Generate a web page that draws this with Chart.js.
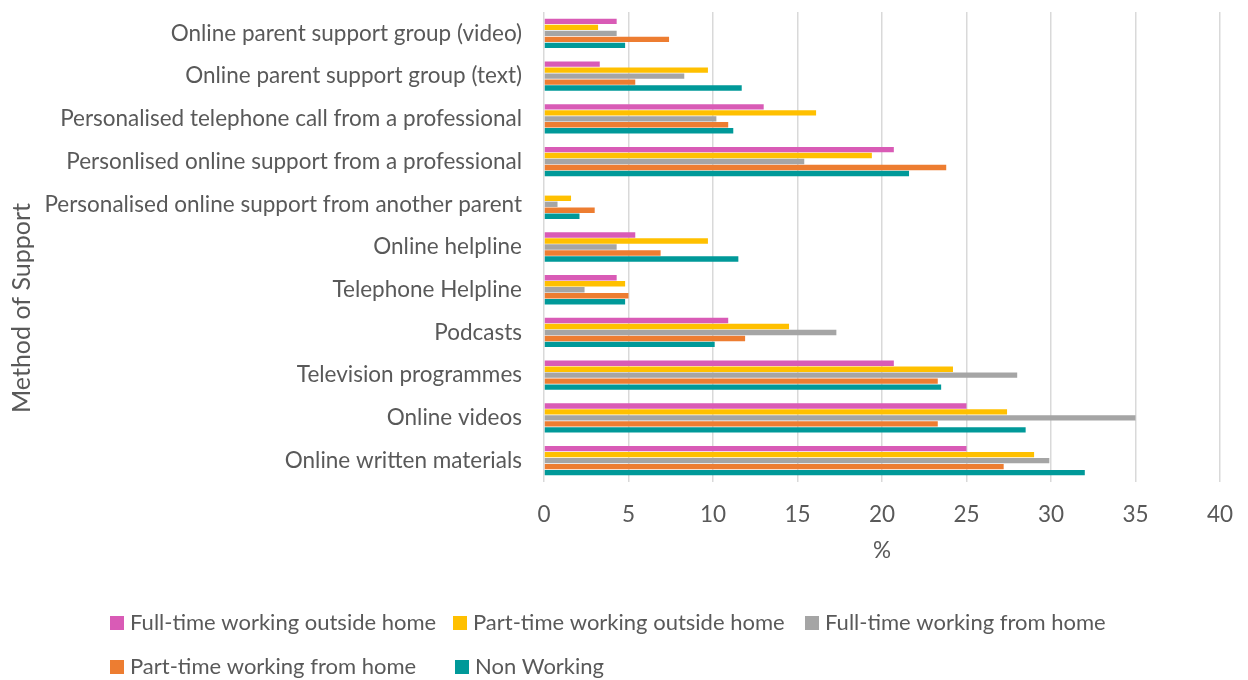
<!DOCTYPE html>
<html>
<head>
<meta charset="utf-8">
<script src="https://cdn.jsdelivr.net/npm/chart.js@4.4.1/dist/chart.umd.min.js"></script>
<style>
  html, body { margin: 0; padding: 0; background: #fff; }
  #wrap { width: 1248px; height: 680px; position: relative; }
</style>
</head>
<body>
<div id="wrap"><canvas id="chart"></canvas></div>
<script>
//! Data

const categories = [
  "Online parent support group (video)",
  "Online parent support group (text)",
  "Personalised telephone call from a professional",
  "Personlised online support from a professional",
  "Personalised online support from another parent",
  "Online helpline",
  "Telephone Helpline",
  "Podcasts",
  "Television programmes",
  "Online videos",
  "Online written materials",
];

const seriesNames = [
  "Full-time working outside home",
  "Part-time working outside home",
  "Full-time working from home",
  "Part-time working from home",
  "Non Working",
];

const fullTimeOutside = [4.3, 3.3, 13.0, 20.7, 0, 5.4, 4.3, 10.9, 20.7, 25.0, 25.0];
const partTimeOutside = [3.2, 9.7, 16.1, 19.4, 1.6, 9.7, 4.8, 14.5, 24.2, 27.4, 29.0];
const fullTimeHome = [4.3, 8.3, 10.2, 15.4, 0.8, 4.3, 2.4, 17.3, 28.0, 35.0, 29.9];
const partTimeHome = [7.4, 5.4, 10.9, 23.8, 3.0, 6.9, 5.0, 11.9, 23.3, 23.3, 27.2];
const nonWorking = [4.8, 11.7, 11.2, 21.6, 2.1, 11.5, 4.8, 10.1, 23.5, 28.5, 32.0];

const xTicks = [0, 5, 10, 15, 20, 25, 30, 35, 40];

const colors = ["#D95BB6", "#FFC000", "#A5A5A5", "#ED7D31", "#009999"];
const textColor = "#595959";
const fontFamily = "Lato, 'Open Sans', sans-serif";

//! Custom legend + rotated axis title

const legendSlots = [[110, 623], [453, 623], [805, 623], [110, 667], [455, 667]];

const extras = {
  id: "extras",
  afterDraw(chart) {
    const ctx = chart.ctx;
    ctx.save();
    ctx.fillStyle = textColor;
    ctx.font = "25px " + fontFamily;
    ctx.textAlign = "center";
    ctx.textBaseline = "middle";
    ctx.translate(22, 308);
    ctx.rotate(-Math.PI / 2);
    ctx.fillText("Method of Support", 0, 0);
    ctx.restore();

    ctx.save();
    ctx.font = "22px " + fontFamily;
    ctx.textAlign = "left";
    ctx.textBaseline = "middle";
    chart.data.datasets.forEach((ds, i) => {
      const [x, y] = legendSlots[i];
      ctx.fillStyle = ds.backgroundColor;
      ctx.fillRect(x, y - 7, 14, 14);
      ctx.fillStyle = textColor;
      ctx.fillText(ds.label, x + 20, y);
    });
    ctx.restore();
  },
};

//! Chart JS

const seriesValues = [fullTimeOutside, partTimeOutside, fullTimeHome, partTimeHome, nonWorking];

new Chart(document.getElementById("chart"), {
  type: "bar",
  data: {
    labels: categories,
    datasets: seriesNames.map((name, i) => ({
      label: name,
      data: seriesValues[i],
      backgroundColor: colors[i],
      borderWidth: 0,
      categoryPercentage: 0.7,
      barPercentage: 0.9,
    })),
  },
  plugins: [extras],
  options: {
    indexAxis: "y",
    responsive: true,
    maintainAspectRatio: false,
    animation: false,
    layout: {
      padding: { top: 12, right: 28, bottom: 108, left: 0 },
    },
    plugins: {
      legend: { display: false },
      tooltip: { enabled: false },
    },
    scales: {
      x: {
        min: 0,
        max: 40,
        afterBuildTicks: (scale) => {
          scale.ticks = xTicks.map((v) => ({ value: v }));
        },
        afterFit: (scale) => {
          scale.height = 90;
          scale.paddingLeft = 0;
          scale.paddingRight = 0;
        },
        grid: { color: "#D9D9D9", lineWidth: 1.5, drawTicks: false },
        border: { display: false },
        ticks: {
          color: textColor,
          padding: 19,
          font: { family: fontFamily, size: 22.5 },
        },
        title: {
          display: true,
          text: "%",
          color: textColor,
          padding: { top: 0, bottom: 8 },
          font: { family: fontFamily, size: 22.5 },
        },
      },
      y: {
        afterFit: (scale) => {
          scale.width = 544;
          scale.paddingTop = 0;
          scale.paddingBottom = 0;
        },
        grid: { display: false, drawTicks: false },
        border: { display: false },
        ticks: {
          color: textColor,
          padding: 22,
          autoSkip: false,
          font: { family: fontFamily, size: 22.5 },
        },
      },
    },
  },
});
</script>
</body>
</html>
